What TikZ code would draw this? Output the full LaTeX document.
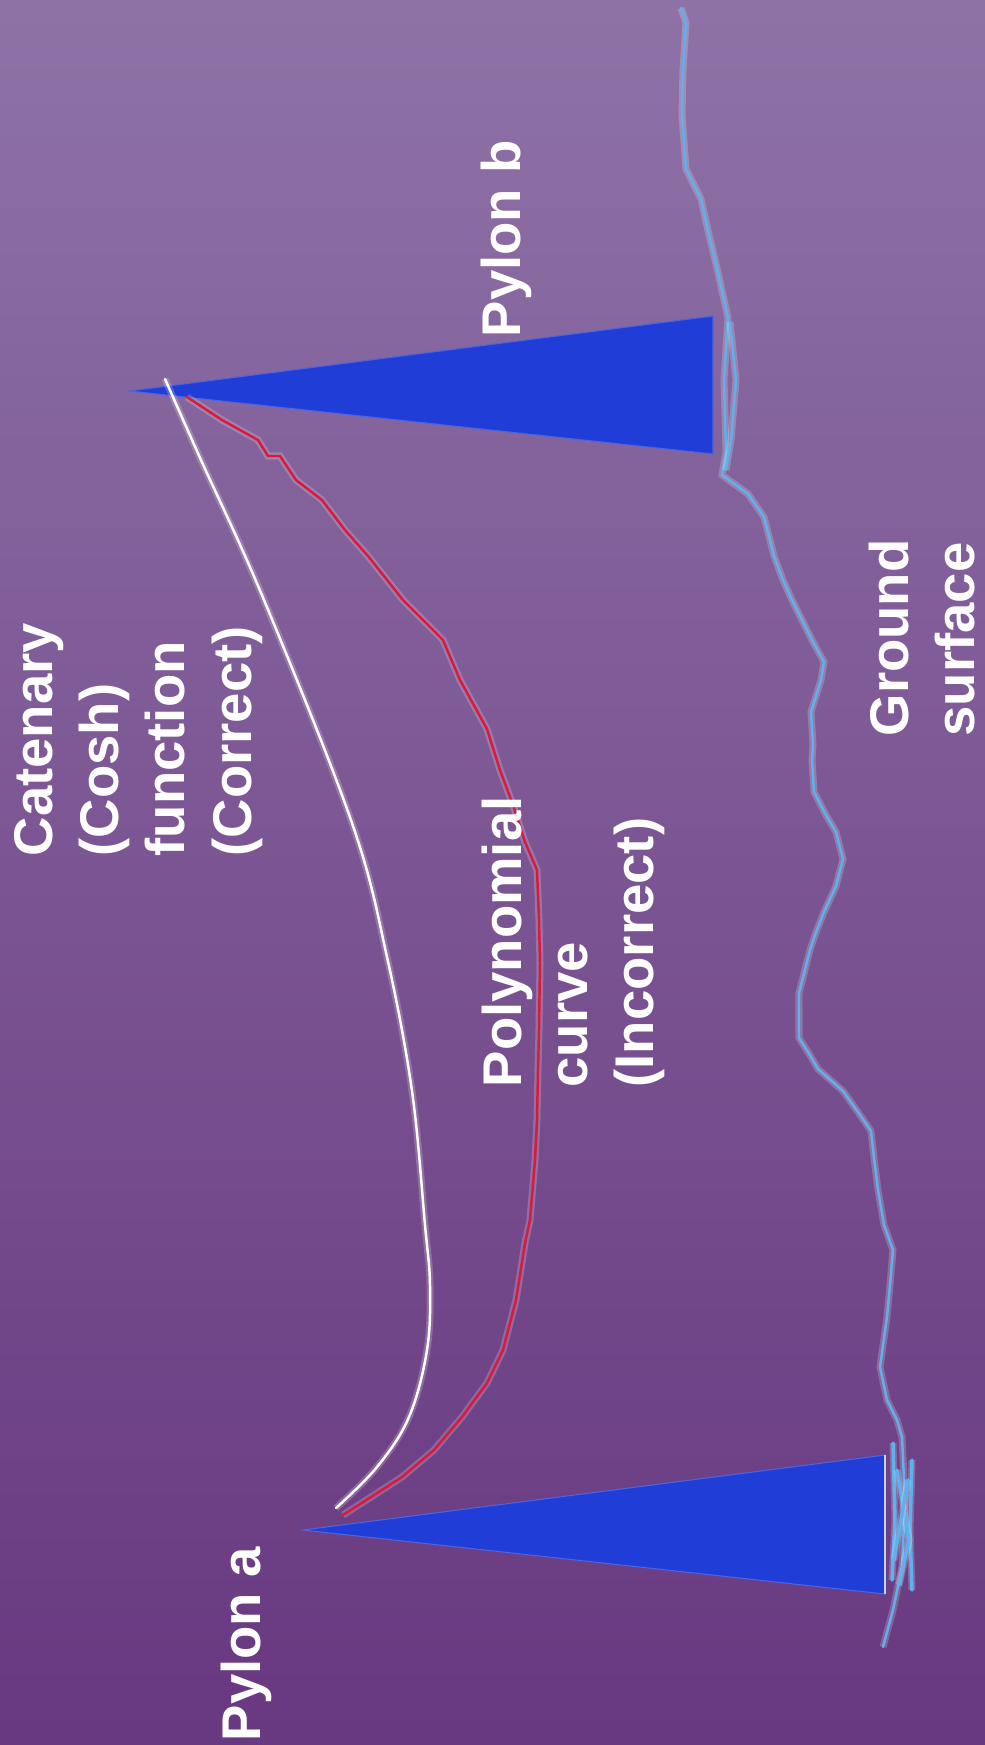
\documentclass[tikz,border=0pt]{standalone}
\usepackage{fontspec}
\setmainfont{Liberation Sans}
\definecolor{bgtop}{RGB}{142,114,166}
\definecolor{bgmid}{RGB}{116,74,138}
\definecolor{bgbot}{RGB}{104,56,128}
\definecolor{pylonblue}{RGB}{32,62,215}
\definecolor{groundblue}{RGB}{92,178,236}
\definecolor{cablered}{RGB}{222,24,58}
\tikzset{
  lbl/.style={text=white, font=\bfseries\fontsize{15.5}{18.8}\selectfont, rotate=90, inner sep=0pt, align=left},
  glow/.style={line width=.7pt, line join=round, line cap=round, preaction={draw=white, draw opacity=.2, line width=2pt}},
  pylon/.style={fill=pylonblue, draw=pylonblue!80!white, line width=.3pt},
}

\begin{document}
\begin{tikzpicture}[x=0.01cm, y=-0.01cm]
  \useasboundingbox (0,0) rectangle (985,1745);
  \clip (0,0) rectangle (985,1745);
  \shade[top color=bgtop, middle color=bgmid, bottom color=bgbot] (0,0) rectangle (985,1745);

  \coordinate (topa) at (303,1530);
  \coordinate (topb) at (129,391);
  \fill[pylon] (topa) -- (885,1455) -- (885,1594) -- cycle;
  \fill[pylon] (topb) -- (713,316) -- (713,454) -- cycle;
  \draw[white!75!pylonblue, line width=.5pt] (885,1455) -- (885,1594);

  \draw[groundblue, glow] (681,8) -- (686,23) -- (683,70) -- (682,115) -- (686,169) -- (701,199) -- (709,235) -- (717,268)
    -- (728,318) -- (724,380) -- (726,452) -- (722,475) -- (748,494) -- (764,517) -- (770,540) -- (774,556) -- (783,580) -- (792,600)
    -- (812,640) -- (824,662) -- (821,680) -- (811,712) -- (813,745) -- (812,760) -- (814,792) -- (826,815) -- (836,832) -- (843,859)
    -- (836,886) -- (824,912) -- (815,935) -- (810,950) -- (799,993) -- (799,1038) -- (808,1052) -- (818,1069) -- (843,1091)
    -- (858,1112) -- (871,1131) -- (874,1158) -- (878,1190) -- (884,1225) -- (893,1250) -- (890,1285) -- (887,1317) -- (880,1367) -- (887,1400)
    -- (897,1420) -- (902,1437) -- (905,1500) -- (902,1567) -- (893,1610) -- (883,1647);
  \draw[groundblue, glow] (730,322) -- (736,380) -- (731,440) -- (726,470);
  \draw[groundblue, glow, line width=1pt] (893,1443) -- (895,1520) -- (892,1580);
  \draw[groundblue, glow, line width=1pt] (912,1460) -- (910,1530) -- (912,1590);
  \draw[groundblue, glow, line width=1pt] (897,1470) -- (909,1540) -- (899,1585);
  \draw[groundblue, glow, line width=1pt] (908,1480) -- (894,1560);

  \draw[white, glow] plot[smooth, tension=.6] coordinates {(165,379) (201,460) (264,600)
    (352,823) (387,957) (412,1091) (425,1225) (430,1285) (427,1350) (409,1417) (377,1467) (336,1508)};

  \draw[cablered, glow] (187,397) -- (222,420) -- (258,440) -- (268,456) -- (280,456)
    -- (296,480) -- (322,500) -- (345,530) -- (368,556) -- (403,600) -- (425,622) -- (443,640) -- (460,680)
    -- (487,729) -- (500,770) -- (513,805) -- (525,842) -- (537,870) -- (539,920) -- (540,963) -- (539,1030)
    -- (538,1070) -- (537,1120) -- (535,1160) -- (530,1220) -- (525,1243) -- (520,1275) -- (516,1300)
    -- (503,1350) -- (487,1383) -- (462,1417) -- (434,1450) -- (402,1477) -- (371,1497) -- (343,1515);

  \node[lbl, anchor=base west] (pyla) at (260,1742) {Pylon a};
  \node[lbl, anchor=base west] (pylb) at (520,338) {Pylon b};
  \node[lbl, anchor=north west] (cat) at (14,857) {Catenary\\(Cosh)\\function\\(Correct)};
  \node[lbl, anchor=north west] (poly) at (481,1088) {Polynomial\\curve\\(Incorrect)};
  \node[lbl, anchor=north west] (gnd) at (868,737) {Ground\\surface};
\end{tikzpicture}
\end{document}
